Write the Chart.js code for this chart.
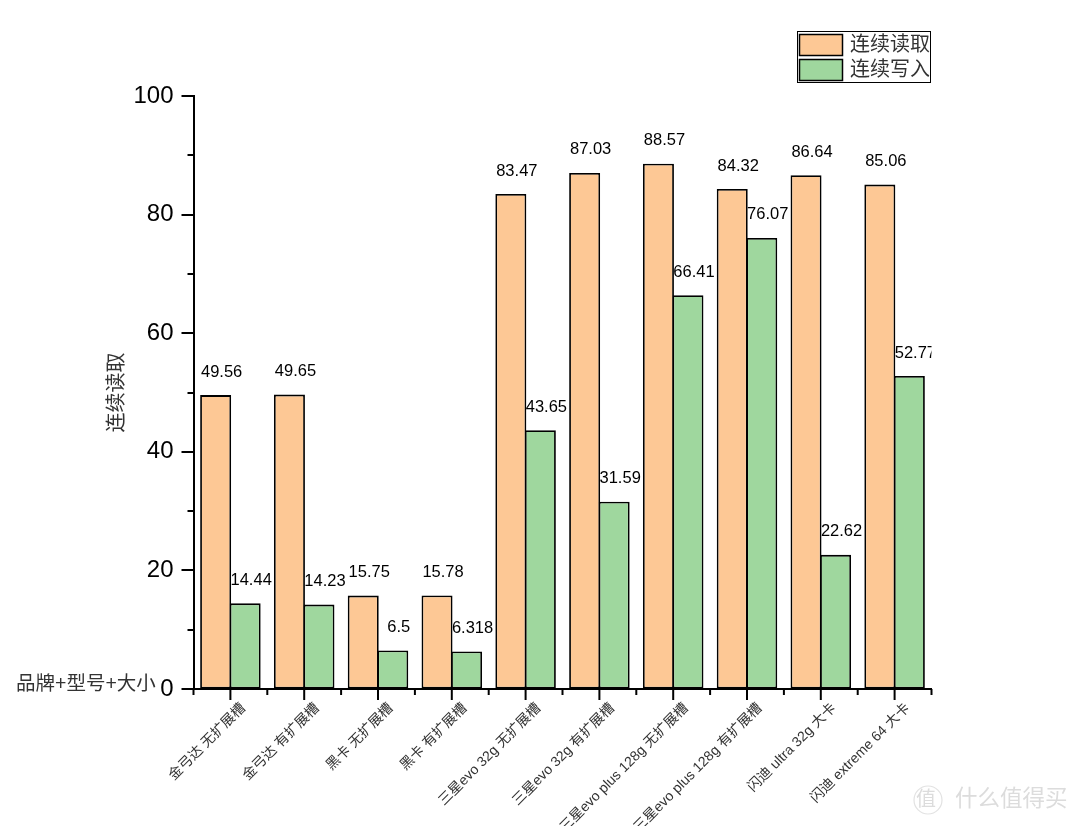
<!DOCTYPE html>
<html><head><meta charset="utf-8">
<script src="https://cdn.jsdelivr.net/npm/chart.js@4"></script>
<style>html,body{margin:0;padding:0;background:#fff}canvas{display:block}</style>
</head><body><canvas id="c" width="1080" height="826"></canvas>
<script>
const categories = ["金弓达 无扩展槽","金弓达 有扩展槽","黑卡 无扩展槽","黑卡 有扩展槽","三星evo 32g 无扩展槽","三星evo 32g 有扩展槽","三星evo plus 128g 无扩展槽","三星evo plus 128g 有扩展槽","闪迪 ultra 32g 大卡","闪迪 extreme 64 大卡"];
const readValues = [49.56,49.65,15.75,15.78,83.47,87.03,88.57,84.32,86.64,85.06];
const writeValues = [14.44,14.23,6.5,6.318,43.65,31.59,66.41,76.07,22.62,52.77];
const readName = "连续读取", writeName = "连续写入";
const yTitle = "连续读取", xNote = "品牌+型号+大小";
const orange = "#FDC895", green = "#9FD79E";
const FONT = '"Liberation Sans","Noto Sans CJK SC",sans-serif';

const decor = {
  id:'decor',
  afterDatasetsDraw(chart){
    const {ctx,scales:{x,y},chartArea:a} = chart;
    ctx.save();
    ctx.strokeStyle='#000'; ctx.lineWidth=2;
    // y ticks
    [0,10,20,30,40,50,60,70,80,90,100].forEach(v=>{
      const p=Math.round(y.getPixelForValue(v));
      const len=v%20===0?12:6;
      ctx.beginPath();ctx.moveTo(a.left,p);ctx.lineTo(a.left-len,p);ctx.stroke();
    });
    // x ticks
    const step=x.getPixelForTick(1)-x.getPixelForTick(0);
    categories.forEach((c,i)=>{
      const p=x.getPixelForTick(i);
      ctx.beginPath();ctx.moveTo(p,a.bottom);ctx.lineTo(p,a.bottom+11);ctx.stroke();
      ctx.beginPath();ctx.moveTo(p-step/2,a.bottom);ctx.lineTo(p-step/2,a.bottom+6);ctx.stroke();
      if(i===categories.length-1){ctx.beginPath();ctx.moveTo(p+step/2,a.bottom);ctx.lineTo(p+step/2,a.bottom+6);ctx.stroke();}
    });
    // value labels, clipped at the frame's right edge
    ctx.save();
    ctx.beginPath();ctx.rect(0,0,a.right,826);ctx.clip();
    ctx.font='16.5px '+FONT;ctx.fillStyle='#000';ctx.textAlign='center';ctx.textBaseline='middle';
    chart.data.datasets.forEach((d,di)=>{
      chart.getDatasetMeta(di).data.forEach((el,i)=>{
        ctx.fillText(String(d.data[i]),el.x+6,el.y-23);
      });
    });
    ctx.restore();
    // axis note
    ctx.font='19.5px '+FONT;ctx.fillStyle='#333';ctx.textAlign='left';ctx.textBaseline='middle';
    ctx.fillText(xNote,16,685);
    // legend
    ctx.fillStyle='#fff';ctx.strokeStyle='#000';ctx.lineWidth=1;
    ctx.strokeRect(797.5,31.5,133,51);
    ctx.lineWidth=1.5;
    [[34.5,orange,readName],[59.5,green,writeName]].forEach(([t,col,name])=>{
      ctx.fillStyle=col;ctx.fillRect(799.5,t,43,21);ctx.strokeRect(799.5,t,43,21);
      ctx.fillStyle='#333';ctx.font='20px '+FONT;ctx.textBaseline='middle';ctx.fillText(name,850,t+11);
    });
    // watermark
    ctx.fillStyle='#dcdcdc';ctx.strokeStyle='#e2e2e2';ctx.lineWidth=1.2;
    ctx.beginPath();ctx.arc(928,800,14,0,Math.PI*2);ctx.stroke();
    ctx.font='20px '+FONT;ctx.textAlign='center';ctx.fillText('值',926,800);
    ctx.font='22.5px '+FONT;ctx.textAlign='left';ctx.fillText('什么值得买',955,800);
    ctx.restore();
  }
};

new Chart(document.getElementById('c'),{
  type:'bar',
  data:{labels:categories,datasets:[
    {label:readName,data:readValues,backgroundColor:orange,borderColor:'#000',borderWidth:1.8,borderSkipped:false},
    {label:writeName,data:writeValues,backgroundColor:green,borderColor:'#000',borderWidth:1.8,borderSkipped:false}
  ]},
  options:{
    responsive:false,animation:false,
    layout:{padding:{top:96,right:148.5,left:0,bottom:0}},
    plugins:{legend:{display:false},tooltip:{enabled:false}},
    datasets:{bar:{categoryPercentage:0.8,barPercentage:1.05}},
    scales:{
      x:{
        grid:{display:true,drawOnChartArea:false,drawTicks:false},
        border:{display:true,color:'#000',width:2},
        afterFit(s){s.height=137;},
        ticks:{autoSkip:false,maxRotation:45,minRotation:45,padding:11,labelOffset:13,color:'#333',font:{size:14,family:FONT}}
      },
      y:{
        min:0,max:100,
        grid:{display:true,drawOnChartArea:false,drawTicks:false},
        border:{display:true,color:'#000',width:2},
        afterFit(s){s.width=193.5;},
        title:{display:true,text:yTitle,color:'#333',font:{size:20,family:FONT},padding:{top:105,bottom:0}},
        ticks:{stepSize:10,padding:20,color:'#000',font:{size:24,family:FONT},
          callback(v){return v%20===0?String(v):'';}}
      }
    }
  },
  plugins:[decor]
});
</script></body></html>
